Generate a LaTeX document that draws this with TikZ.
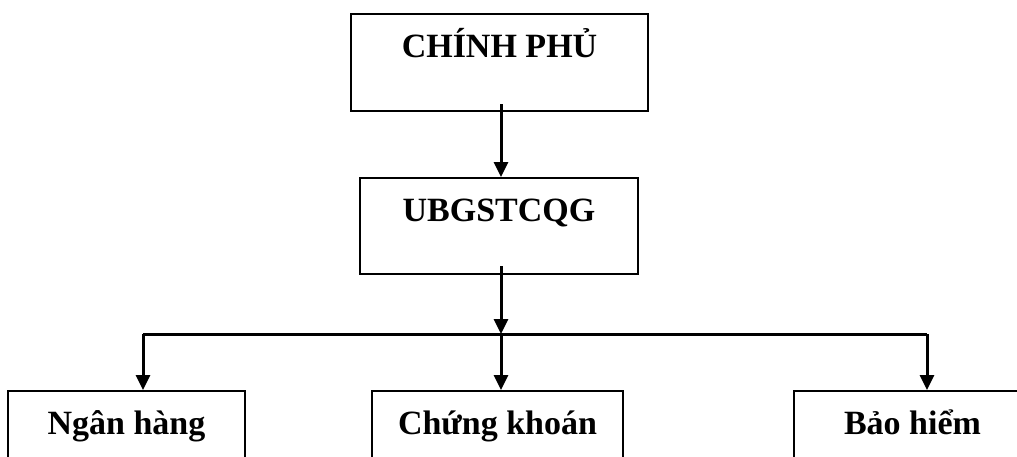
\documentclass[tikz,border=0pt]{standalone}
\usepackage{fontspec}
\setmainfont{Liberation Serif}
\usetikzlibrary{arrows.meta}
\begin{document}
\begin{tikzpicture}[x=1pt,y=-1pt,
  box/.style={draw,line width=2pt,inner xsep=0pt,inner ysep=0pt,anchor=north,
    font=\fontsize{34}{40}\selectfont\bfseries,text height=43.5pt},
  arr/.style={line width=3pt,-{Triangle[length=15pt,width=14pt]}},
  ln/.style={line width=3pt}]
\useasboundingbox (0,0) rectangle (1017,456);
\clip (0,0) rectangle (1017,456);
\node[box,minimum width=297pt,text depth=53.5pt] (cp) at (499.5,13) {CHÍNH PHỦ};
\node[box,minimum width=278pt,text depth=52.5pt] (ub) at (499,177) {UBGSTCQG};
\node[box,minimum width=237pt,text depth=56.5pt] (nh) at (126.5,390) {Ngân hàng};
\node[box,minimum width=251pt,text depth=56.5pt] (ck) at (497.5,390) {Chứng khoán};
\node[box,minimum width=237pt,text depth=56.5pt] (bh) at (912.5,390) {Bảo hiểm};
\coordinate (t1) at (501,104);
\coordinate (t2) at (501,266);
\coordinate (j) at (501,334);
\coordinate (jl) at (143,334);
\coordinate (jr) at (927,334);
\draw[arr] (t1) -- (t1 |- ub.north);
\draw[arr] (t2) -- (j);
\draw[ln] (jl) -- (jr);
\draw[arr] (jl) -- (jl |- nh.north);
\draw[arr] (j) -- (j |- ck.north);
\draw[arr] (jr) -- (jr |- bh.north);
\end{tikzpicture}
\end{document}
